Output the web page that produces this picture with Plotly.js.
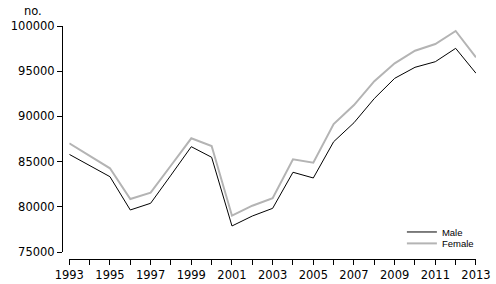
<!DOCTYPE html>
<html>
<head>
<meta charset="utf-8">
<script src="https://cdn.plot.ly/plotly-3.0.1.min.js"></script>
<style>html,body{margin:0;padding:0;background:#fff;}#chart{width:496px;height:284px;}</style>
</head>
<body>
<div id="chart"></div>
<script>
var years = [1993,1994,1995,1996,1997,1998,1999,2000,2001,2002,2003,2004,2005,2006,2007,2008,2009,2010,2011,2012,2013];
var male = [85800,84550,83330,79650,80390,83500,86650,85480,77880,78980,79830,83820,83190,87200,89300,91980,94210,95430,96050,97530,94770];
var female = [87020,85650,84260,80860,81560,84570,87580,86730,79020,80120,80940,85250,84880,89150,91250,93900,95870,97270,98010,99450,96540];
var xTickVals = years;
var xTickText = years.map(function(y){ return (y % 2 === 1) ? String(y) : ''; });
var yTickVals = [75000,80000,85000,90000,95000,100000];

var axisFont = {family: 'DejaVu Sans, Verdana, sans-serif', size: 11.5, color: '#000'};
var legFont = {family: 'Liberation Sans, Arial, sans-serif', size: 9.5, color: '#000'};

var traces = [
  {x: years, y: male, type: 'scatter', mode: 'lines', name: 'Male', legend: 'legend',
   line: {color: '#000000', width: 1}},
  {x: years, y: female, type: 'scatter', mode: 'lines', name: 'Female', legend: 'legend2',
   line: {color: '#b4b4b4', width: 2}}
];

var layout = {
  width: 496, height: 284,
  margin: {l: 62, r: 20, t: 26, b: 25, pad: 0},
  paper_bgcolor: '#fff', plot_bgcolor: '#fff',
  showlegend: true,
  legend: {x: 0.821, y: 0.116, xanchor: 'left', yanchor: 'middle', font: legFont,
           bgcolor: 'rgba(0,0,0,0)', itemwidth: 30},
  legend2: {x: 0.821, y: 0.067, xanchor: 'left', yanchor: 'middle', font: legFont,
           bgcolor: 'rgba(0,0,0,0)', itemwidth: 30},
  xaxis: {domain: [0.0176, 1], range: [1993, 2013], anchor: 'free', position: 0,
          tickvals: xTickVals, ticktext: xTickText, ticks: 'outside', ticklen: 5,
          tickcolor: '#000', tickwidth: 1, showline: true, linecolor: '#000', linewidth: 1,
          showgrid: false, zeroline: false, tickfont: axisFont},
  yaxis: {domain: [0.030, 1], range: [75000, 100000], anchor: 'free', position: 0,
          tickvals: yTickVals, tickformat: 'd', ticks: 'outside', ticklen: 5,
          tickcolor: '#000', tickwidth: 1, showline: true, linecolor: '#000', linewidth: 1,
          showgrid: false, zeroline: false, tickfont: axisFont},
  annotations: [
    {text: 'no.', xref: 'paper', yref: 'paper', x: -0.07, y: 1.065, xanchor: 'center', yanchor: 'middle',
     showarrow: false, font: axisFont}
  ]
};

Plotly.newPlot('chart', traces, layout, {displayModeBar: false, staticPlot: true});
</script>
</body>
</html>
